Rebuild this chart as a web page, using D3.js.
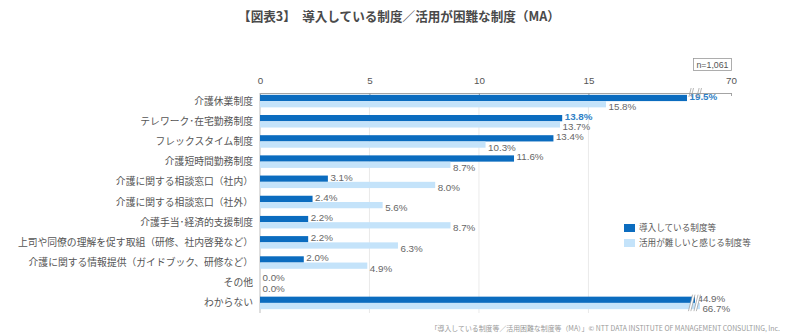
<!DOCTYPE html>
<html><head><meta charset="utf-8">
<script src="https://cdn.jsdelivr.net/npm/d3@7"></script>
<style>
html,body{margin:0;padding:0;background:#fff;}
svg{display:block;}
</style></head>
<body>
<svg id="chart" width="800" height="336"></svg>
<script>
const titleText = "【図表3】　導入している制度／活用が困難な制度（MA）";
const categories = [
  "介護休業制度",
  "テレワーク･在宅勤務制度",
  "フレックスタイム制度",
  "介護短時間勤務制度",
  "介護に関する相談窓口（社内）",
  "介護に関する相談窓口（社外）",
  "介護手当･経済的支援制度",
  "上司や同僚の理解を促す取組（研修、社内啓発など）",
  "介護に関する情報提供（ガイドブック、研修など）",
  "その他",
  "わからない"
];
const seriesNames = ["導入している制度等", "活用が難しいと感じる制度等"];
const introduced = [19.5, 13.8, 13.4, 11.6, 3.1, 2.4, 2.2, 2.2, 2.0, 0.0, 44.9];
const difficult  = [15.8, 13.7, 10.3, 8.7, 8.0, 5.6, 8.7, 6.3, 4.9, 0.0, 66.7];
const highlighted = ["介護休業制度", "テレワーク･在宅勤務制度"];
const tickValues = [0, 5, 10, 15, 70];
const brokenCategories = ["わからない"];
const sampleNote = "n=1,061";
const sourceNote = "「導入している制度等／活用困難な制度等（MA）」© NTT DATA INSTITUTE OF MANAGEMENT CONSULTING, Inc.";

const colors = ["#0b6cbf", "#c4e3fa"];
const jp = "'Noto Sans CJK JP', 'Noto Sans', sans-serif";
const num = "'Liberation Sans', Arial, 'Noto Sans CJK JP', sans-serif";

const svg = d3.select("#chart");

const breakStart = 19.6, breakEnd = 67;
const x = d3.scaleLinear().domain([0, breakStart, breakEnd, 70]).range([260, 689.2, 700, 731]);
const y = d3.scaleBand().domain(categories).range([91, 313]).paddingInner(0.38).paddingOuter(0.19);
const bh = y.bandwidth() / 2;

svg.append("text").attr("x", 399).attr("y", 21).attr("text-anchor", "middle")
  .attr("font-family", jp).attr("font-size", 12.6).attr("font-weight", 700).attr("fill", "#4a4a4a")
  .text(titleText);

const nb = svg.append("g");
nb.append("rect").attr("x", 693.5).attr("y", 58.5).attr("width", 38).attr("height", 12)
  .attr("fill", "#fff").attr("stroke", "#999").attr("stroke-width", 0.8);
nb.append("text").attr("x", 712.5).attr("y", 68).attr("text-anchor", "middle")
  .attr("font-family", num).attr("font-size", 8.8).attr("fill", "#555").text(sampleNote);

svg.append("g").selectAll("line").data(tickValues.filter(d => d > 0 && d < 70)).join("line")
  .attr("x1", d => x(d)).attr("x2", d => x(d)).attr("y1", 93).attr("y2", 313)
  .attr("stroke", "#e4e4e4").attr("stroke-width", 0.8);

const axis = d3.axisTop(x).tickValues(tickValues).tickSize(0).tickPadding(9).tickFormat(d3.format("d"));
const ag = svg.append("g").attr("transform", "translate(0,93)").call(axis);
ag.select(".domain").attr("stroke", "#9a9a9a").attr("stroke-width", 0.9);
ag.selectAll("text").attr("font-family", num).attr("font-size", 9.8).attr("fill", "#555");
ag.selectAll(".tick").append("line").attr("y1", 0).attr("y2", 3).attr("stroke", "#9a9a9a").attr("stroke-width", 0.9);

svg.append("line").attr("x1", x(0)).attr("x2", x(0)).attr("y1", 93).attr("y2", 313)
  .attr("stroke", "#b5b5b5").attr("stroke-width", 0.9);

const rows = categories.map((c, i) => ({c, a: introduced[i], b: difficult[i]}));
const g = svg.append("g");
g.selectAll("rect.a").data(rows).join("rect").attr("class", "a")
  .attr("x", x(0)).attr("y", d => y(d.c)).attr("width", d => x(d.a) - x(0)).attr("height", bh)
  .attr("fill", colors[0]);
g.selectAll("rect.b").data(rows).join("rect").attr("class", "b")
  .attr("x", x(0)).attr("y", d => y(d.c) + bh).attr("width", d => x(d.b) - x(0)).attr("height", bh)
  .attr("fill", colors[1]);

g.selectAll("text.la").data(rows).join("text").attr("class", "la")
  .attr("x", d => x(d.a) + 2.5).attr("y", d => y(d.c) + bh / 2 - 1.6).attr("dy", "0.35em")
  .attr("font-family", num).attr("font-size", 9.8)
  .attr("font-weight", d => highlighted.includes(d.c) ? 700 : 400)
  .attr("fill", d => highlighted.includes(d.c) ? "#2f7fc6" : "#666")
  .text(d => d.a.toFixed(1) + "%");
g.selectAll("text.lb").data(rows).join("text").attr("class", "lb")
  .attr("x", d => x(d.b) + 2.5).attr("y", d => y(d.c) + bh * 1.5 + 2.6).attr("dy", "0.35em")
  .attr("font-family", num).attr("font-size", 9.8).attr("fill", "#666")
  .text(d => d.b.toFixed(1) + "%");

function slash(gg, cx, y1, y2) {
  const dx = (y2 - y1) * 0.25;
  gg.append("line").attr("x1", cx - dx / 2 - 1.2).attr("x2", cx + dx / 2 - 1.2).attr("y1", y2).attr("y2", y1)
    .attr("stroke", "#999").attr("stroke-width", 0.7);
  gg.append("line").attr("x1", cx - dx / 2 + 1.2).attr("x2", cx + dx / 2 + 1.2).attr("y1", y2).attr("y2", y1)
    .attr("stroke", "#999").attr("stroke-width", 0.7);
}
const bm = svg.append("g");
[x(breakStart) + 2, x(breakStart) + 10].forEach(cx => slash(bm, cx, 88, 97));
brokenCategories.forEach(c => {
  const y0 = y(c) - 2, y1 = y(c) + 2 * bh + 2;
  [x(breakStart) + 2.5, x(breakStart) + 8].forEach(cx => {
    const dx = (y1 - y0) * 0.25;
    bm.append("line").attr("x1", cx - dx / 2).attr("x2", cx + dx / 2).attr("y1", y1).attr("y2", y0)
      .attr("stroke", "#fff").attr("stroke-width", 2.2);
  });
  [x(breakStart) + 2.5, x(breakStart) + 8].forEach(cx => slash(bm, cx, y0, y1));
});

svg.append("g").selectAll("text").data(categories).join("text")
  .attr("x", 253).attr("y", d => y(d) + bh).attr("dy", "0.36em").attr("text-anchor", "end")
  .attr("font-family", jp).attr("font-size", 9.8).attr("fill", "#555")
  .text(d => d);

const lg = svg.append("g").attr("transform", "translate(624,224)");
seriesNames.forEach((s, i) => {
  lg.append("rect").attr("x", 0).attr("y", i * 15).attr("width", 11).attr("height", 8).attr("fill", colors[i]);
  lg.append("text").attr("x", 15).attr("y", i * 15 + 4).attr("dy", "0.36em")
    .attr("font-family", jp).attr("font-size", 8.6).attr("fill", "#555").text(s);
});

svg.append("text").attr("x", 780).attr("y", 331).attr("text-anchor", "end")
  .attr("font-family", jp).attr("font-size", 6.9).attr("fill", "#999").text(sourceNote);
</script>
</body></html>
